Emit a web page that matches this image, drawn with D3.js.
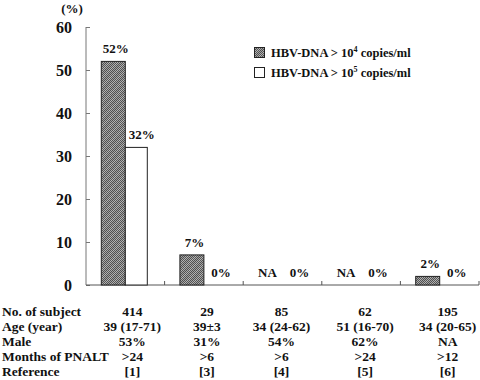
<!DOCTYPE html>
<html><head><meta charset="utf-8">
<script src="https://cdn.jsdelivr.net/npm/d3@7/dist/d3.min.js"></script>
<style>body{margin:0;background:#fff}svg{display:block}text{font-family:"Liberation Serif","Times New Roman",serif;font-weight:bold;fill:#111}</style>
</head><body><svg id="c" width="480" height="380"></svg>
<script>
const categories = ["[1]","[3]","[4]","[5]","[6]"];
const series1 = [52, 7, null, null, 2];   // HBV-DNA > 10^4
const series2 = [32, 0, 0, 0, 0];         // HBV-DNA > 10^5
const yTicks = [0,10,20,30,40,50,60];
const rowLabels = ["No. of subject","Age (year)","Male","Months of PNALT","Reference"];
const nSubject = ["414","29","85","62","195"];
const ageYear = ["39 (17-71)","39±3","34 (24-62)","51 (16-70)","34 (20-65)"];
const male = ["53%","31%","54%","62%","NA"];
const months = [">24",">6",">6",">24",">12"];
const references = ["[1]","[3]","[4]","[5]","[6]"];

const svg = d3.select("#c");
const defs = svg.append("defs");
const P = 8;
const pat = defs.append("pattern").attr("id","hatch").attr("patternUnits","userSpaceOnUse")
  .attr("width",P).attr("height",P);
pat.append("rect").attr("width",P).attr("height",P).attr("fill","#b8b8b8");
const cells = [];
for (let i=0;i<P;i++) for (let j=0;j<P;j++) if ((i+j)%2===0) cells.push([i,j]);
pat.selectAll("rect.ck").data(cells).join("rect").attr("class","ck")
  .attr("x",d=>d[0]).attr("y",d=>d[1]).attr("width",1).attr("height",1).attr("fill","#555");
pat.append("path").attr("d","M-2,2 l4,-4 M0,8 l8,-8 M6,10 l4,-4")
  .attr("stroke","#333").attr("stroke-opacity",0.18).attr("stroke-width",3);

const x = d3.scaleBand().domain(categories).range([86,479]).padding(0);
const y = d3.scaleLinear().domain([0,60]).range([285,27]);
const bw = 23;
const tableOffset = [7,3,-1,4,8];
const fs = 13.5;

// y axis
const yAxis = d3.axisRight(y).tickValues(yTicks).tickSize(4).tickFormat("");
const gy = svg.append("g").attr("transform","translate(86,0)").call(yAxis);
gy.selectAll("path,line").attr("stroke","#777");
gy.select(".domain").attr("d","M0,27V285");
svg.selectAll(".ytl").data(yTicks).join("text").attr("class","ytl")
  .attr("x",72).attr("y",d=>y(d)+5.5).attr("text-anchor","end").attr("font-size",16).text(d=>d);
svg.append("text").attr("x",72).attr("y",13).attr("text-anchor","middle").attr("font-size",13).text("(%)");

// x axis
const xAxis = d3.axisTop(x).tickSize(4).tickFormat("");
const gx = svg.append("g").attr("transform","translate(0,285)").call(xAxis);
gx.selectAll(".tick").remove();
gx.select(".domain").attr("d","M86,0H479").attr("stroke","#555");
const bounds = categories.map(c=>x(c)+x.bandwidth());
gx.selectAll(".bt").data(bounds).join("line").attr("class","bt")
  .attr("x1",d=>d).attr("x2",d=>d).attr("y1",0).attr("y2",-4).attr("stroke","#555");

// bars
const cx = c => x(c)+x.bandwidth()/2;
categories.forEach((c,i)=>{
  const v1 = series1[i], v2 = series2[i];
  if (v1!=null) {
    svg.append("rect").attr("x",cx(c)-bw-1).attr("y",y(v1)).attr("width",bw+1).attr("height",y(0)-y(v1))
      .attr("fill","url(#hatch)").attr("stroke","#222").attr("stroke-width",1);
  }
  if (v2>0) {
    svg.append("rect").attr("x",cx(c)).attr("y",y(v2)).attr("width",bw-1).attr("height",y(0)-y(v2))
      .attr("fill","#fff").attr("stroke","#222").attr("stroke-width",1);
  }
  const lx1 = v1!=null ? cx(c)-bw/2+2 : cx(c)-15;
  svg.append("text").attr("x",lx1).attr("y",(v1!=null? y(v1):y(0))-8)
    .attr("text-anchor","middle").attr("font-size",13).text(v1!=null? v1+"%" : "NA");
  const lx2 = v2>0 ? cx(c)+bw/2+5 : cx(c)+17;
  svg.append("text").attr("x",lx2).attr("y",y(v2)-8)
    .attr("text-anchor","middle").attr("font-size",13).text(v2+"%");
});

// legend
const leg = [{fill:"url(#hatch)",t:"HBV-DNA > 10",s:"4"},{fill:"#fff",t:"HBV-DNA > 10",s:"5"}];
leg.forEach((d,i)=>{
  const yy = 47+i*20;
  svg.append("rect").attr("x",254.5).attr("y",yy+0.5).attr("width",10).attr("height",10)
    .attr("fill",d.fill).attr("stroke","#222");
  const t = svg.append("text").attr("x",271).attr("y",yy+9.5).attr("font-size",12.5);
  t.append("tspan").text(d.t);
  t.append("tspan").attr("dy",-5).attr("font-size",8).text(d.s);
  t.append("tspan").attr("dy",5).text(" copies/ml");
});

// table
const rows = [nSubject, ageYear, male, months, references];
rowLabels.forEach((lab,r)=>{
  const yy = 316 + r*15;
  svg.append("text").attr("x",2).attr("y",yy).attr("font-size",fs).text(lab);
  svg.selectAll(".r"+r).data(rows[r]).join("text").attr("class","r"+r)
    .attr("x",(d,i)=>cx(categories[i])+tableOffset[i]).attr("y",yy).attr("text-anchor","middle")
    .attr("font-size",fs).text(d=>d);
});
</script></body></html>
